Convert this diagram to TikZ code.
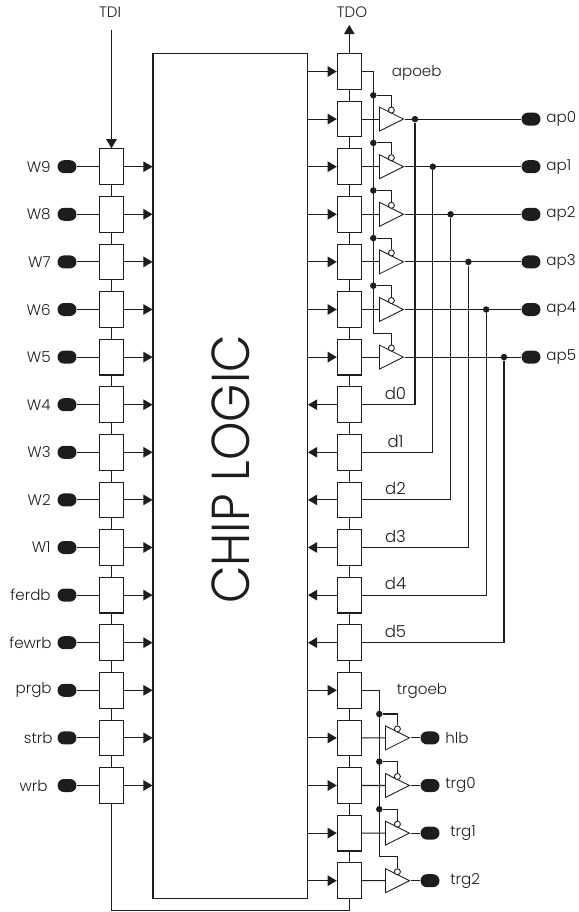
\documentclass[tikz,border=0pt]{standalone}
\usepackage{fontspec}
\setmainfont{Poppins Light}
\usetikzlibrary{shapes.geometric,arrows.meta}
\definecolor{pinblack}{RGB}{30,28,28}
\tikzset{
    wire/.style={line width=0.6pt,draw=pinblack},
    sigarrow/.style={wire,-{Triangle[length=5.2pt,width=6pt]}},
    cell/.style={draw=pinblack,line width=0.6pt,fill=white,minimum width=0.48cm,minimum height=0.715cm,inner sep=0pt},
    pin/.style={fill=pinblack,rounded corners=0.13cm,minimum width=0.38cm,minimum height=0.26cm,inner sep=0pt},
    dot/.style={circle,fill=pinblack,minimum size=0.13cm,inner sep=0pt},
    bubble/.style={circle,draw=pinblack,line width=0.5pt,fill=white,minimum size=0.12cm,inner sep=0pt},
    buffer/.style={isosceles triangle,isosceles triangle stretches,shape border rotate=0,draw=pinblack,line width=0.5pt,fill=white,minimum width=0.48cm,minimum height=0.48cm,inner sep=0pt,anchor=lower side},
    txt/.style={font=\fontsize{8.6pt}{10pt}\selectfont,text=pinblack,inner sep=0pt}
}
\begin{document}
\begin{tikzpicture}[x=0.02cm,y=-0.02cm]
    \useasboundingbox (0,0) rectangle (578,912);
    \node[draw=pinblack,line width=0.6pt,minimum width=3.09cm,minimum height=16.898cm,inner sep=0pt] (chip) at (230.25,475.85) {};
    \node[rotate=90,xscale=0.914,font=\fontsize{30.4pt}{31pt}\selectfont,text=pinblack,inner sep=0pt] (chiplabel) at (230.5,469.5) {CHIP LOGIC};

    \node[txt] (tdilabel) at (110,12.5) {TDI};
    \node[txt] (tdolabel) at (352,12.5) {TDO};
    \coordinate (tdi) at (111.5,30);
    \coordinate (tdo) at (349.3,25);

    \foreach \i/\name/\labx in {0/W9/51,1/W8/51,2/W7/51,3/W6/51,4/W5/51,5/W4/51,6/W3/51,7/W2/51,8/W1/51,9/ferdb/51,10/fewrb/52,11/prgb/52,12/strb/53,13/wrb/48} {
        \node[cell] (l\i) at (111.5,{166.7+47.6*\i}) {};
        \node[pin] (lpin\i) at (67,{166.7+47.6*\i}) {};
        \node[txt,anchor=east] (llabel\i) at (\labx,{166.7+47.6*\i}) {\name};
        \draw[wire] (lpin\i) -- (l\i);
        \draw[sigarrow] (l\i.east) -- (l\i -| chip.west);
    }
    \foreach \i [remember=\i as \j (initially 0)] in {1,...,13} {
        \draw[wire] (l\j.south) -- (l\i.north);
    }

    \foreach \i in {0,...,17} {
        \node[cell] (r\i) at (349.3,{71.5+47.6*\i}) {};
    }
    \foreach \i [remember=\i as \j (initially 0)] in {1,...,17} {
        \draw[wire] (r\j.south) -- (r\i.north);
    }
    \foreach \i in {0,...,6,13,14,15,16,17} {
        \draw[sigarrow] (r\i -| chip.east) -- (r\i.west);
    }
    \foreach \i in {7,...,12} {
        \draw[sigarrow] (r\i.west) -- (r\i -| chip.east);
    }

    \draw[sigarrow] (tdi) -- (l0.north);
    \draw[sigarrow] (r0.north) -- (tdo);
    \coordinate (scanback) at (230,910.3);
    \draw[wire] (l13.south) |- (scanback) -| (r17.south);

    \node[txt] (apoeb) at (416.7,73) {apoeb};
    \coordinate (apend) at (373.3,333.3);
    \draw[wire] (r0.east) -| (apend);
    \foreach \i/\name/\tapx in {0/ap0/415,1/ap1/432.8,2/ap2/450.6,3/ap3/468.4,4/ap4/486.2,5/ap5/504} {
        \pgfmathtruncatemacro{\row}{\i+1}
        \pgfmathtruncatemacro{\drow}{\i+7}
        \node[buffer] (apbuf\i) at (379,{119.1+47.6*\i}) {};
        \node[bubble] (apbub\i) at (391.4,{110.1+47.6*\i}) {};
        \node[pin] (appin\i) at (531,{119.1+47.6*\i}) {};
        \node[txt,anchor=west] (aplabel\i) at (546,{119.1+47.6*\i}) {\name};
        \node[dot] (aptap\i) at (\tapx,{119.1+47.6*\i}) {};
        \node[txt,font=\fontsize{9.4pt}{10pt}\selectfont] (dlabel\i) at (395.5,{393.5+47.6*\i}) {d\i};
        \draw[wire] (r\row.east) -- (apbuf\i.lower side);
        \draw[wire] (apbuf\i.apex) -- (appin\i.west);
        \draw[wire] (r\drow.east) -| (aptap\i);
    }
    \foreach \i in {0,...,4} {
        \node[dot] (apen\i) at (373.3,{95.3+47.6*\i}) {};
        \draw[wire] (apen\i) -| (apbub\i.north);
    }
    \draw[wire] (apend) -| (apbub5.north);

    \node[txt] (trgoeb) at (422,690.7) {trgoeb};
    \coordinate (trgend) at (379.3,856.7);
    \draw[wire] (r13.east) -| (trgend);
    \foreach \i/\name/\labx in {0/hlb/445,1/trg0/445,2/trg1/450,3/trg2/450} {
        \pgfmathtruncatemacro{\row}{\i+14}
        \node[buffer] (trgbuf\i) at (385,{737.9+47.6*\i}) {};
        \node[bubble] (trgbub\i) at (397.4,{728.9+47.6*\i}) {};
        \node[pin] (trgpin\i) at (430,{737.9+47.6*\i}) {};
        \node[txt,anchor=west] (trglabel\i) at (\labx,{737.9+47.6*\i}) {\name};
        \draw[wire] (r\row.east) -- (trgbuf\i.lower side);
        \draw[wire] (trgbuf\i.apex) -- (trgpin\i.west);
    }
    \foreach \i in {0,...,2} {
        \node[dot] (trgen\i) at (379.3,{714+47.6*\i}) {};
        \draw[wire] (trgen\i) -| (trgbub\i.north);
    }
    \draw[wire] (trgend) -| (trgbub3.north);
\end{tikzpicture}
\end{document}
